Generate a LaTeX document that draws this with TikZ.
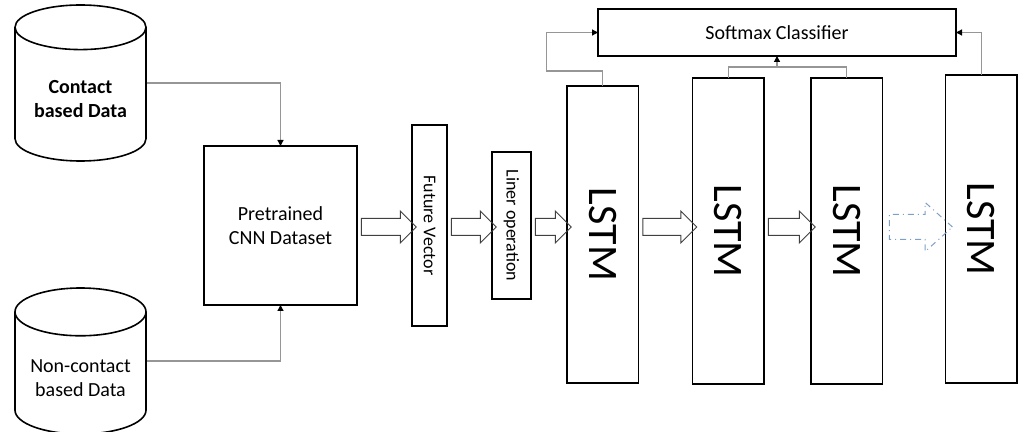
\documentclass[tikz,border=0pt]{standalone}
\usepackage{fontspec}
\setmainfont{Carlito}
\usepackage{graphicx}
\usepackage{tikz}
\usetikzlibrary{arrows.meta,positioning,shapes.geometric,shapes.arrows}
\definecolor{linkgray}{RGB}{150,150,150}
\definecolor{dashblue}{RGB}{125,160,200}
\newcommand{\downtext}[1]{\rotatebox{-90}{#1}}

\begin{document}
\begin{tikzpicture}[
  every node/.style={font=\fontsize{10}{12}\selectfont},
  box/.style={draw,line width=0.9pt,inner sep=0pt,outer sep=0pt,align=center},
  db/.style={draw,line width=0.8pt,cylinder,shape border rotate=90,aspect=0.42,
    minimum width=65.5pt,anchor=shape center,align=center},
  lstm/.style={box,minimum width=35.75pt,font=\fontsize{21}{24}\selectfont},
  link/.style={linkgray,line width=0.6pt,-{Triangle[length=3pt,width=3pt,black]}},
  fat/.style={single arrow,draw=black!75,line width=0.5pt,inner xsep=0pt,
    inner ysep=4pt,single arrow head extend=3.75pt,single arrow tip angle=90,
    anchor=center},
  fatdash/.style={fat,draw=dashblue,dash dot,inner ysep=6pt,
    single arrow head extend=6pt,single arrow tip angle=84}
]
\useasboundingbox (0,0) rectangle (511pt,-216pt);
\coordinate (flow) at (0,-113.5pt);

% data sources and the CNN
\node[db,minimum height=78pt] (contact) at (40.25pt,-41.5pt)
  {\textbf{Contact}\\\textbf{based Data}};
\node[db,minimum height=73pt] (noncontact) at (40.25pt,-180.5pt)
  {Non-contact\\based Data};
\node[box,minimum width=76.5pt,minimum height=79.5pt] (cnn) at (140.25pt,-112.75pt)
  {Pretrained\\CNN Dataset};

% feature and linear stages
\node[box,minimum width=17.5pt,minimum height=100.5pt,font=\fontsize{9}{11}\selectfont,
  right=27.5pt of cnn] (fv) {\downtext{Future Vector}};
\node[box,minimum width=19.5pt,minimum height=73.5pt,font=\fontsize{9}{11}\selectfont,
  right=22.5pt of fv] (lo) {\downtext{Liner operation}};

% LSTM chain
\node[lstm,minimum height=148.5pt,right=18pt of lo,yshift=-4.5pt] (l1) {\downtext{LSTM}};
\node[lstm,minimum height=153pt,right=27pt of l1,yshift=1.75pt] (l2) {\downtext{LSTM}};
\node[lstm,minimum height=153pt,right=23.5pt of l2] (l3) {\downtext{LSTM}};
\node[lstm,minimum height=154pt,right=31.5pt of l3,yshift=1pt] (l4) {\downtext{LSTM}};

\node[box,minimum width=179pt,minimum height=23.5pt] (sm) at (388.5pt,-16.25pt)
  {Softmax Classifier};

% inputs into the CNN
\draw[link] (contact.shape center -| contact.east) -| (cnn.north);
\draw[link] (noncontact.shape center -| noncontact.east) -| (cnn.south);

% block arrows along the chain
\path (cnn.east |- flow) -- node[fat,minimum height=27.5pt]{} (fv.west |- flow);
\path (fv.east |- flow) -- node[fat,minimum height=22.5pt]{} (lo.west |- flow);
\path (lo.east |- flow) -- node[fat,minimum height=18pt]{} (l1.west |- flow);
\path (l1.east |- flow) -- node[fat,minimum height=27pt]{} (l2.west |- flow);
\path (l2.east |- flow) -- node[fat,minimum height=23.5pt]{} (l3.west |- flow);
\path (l3.east |- flow) -- node[fatdash,minimum height=31.5pt]{} (l4.west |- flow);

% outputs to the classifier
\draw[link] (l1.north) |- ++(-28pt,7.5pt) |- (sm.west);
\draw[linkgray,line width=0.6pt] (l2.north) -- ++(0,5.5pt) coordinate (split) -| (l3.north);
\draw[link] (split -| sm.south) -- (sm.south);
\draw[link] (l4.north) |- (sm.east);
\end{tikzpicture}
\end{document}
